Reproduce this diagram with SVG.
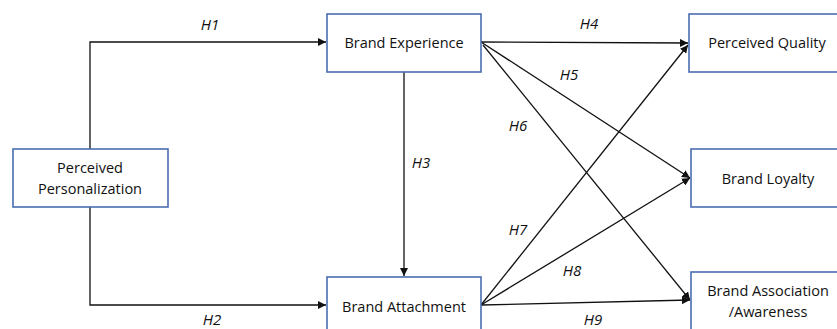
<svg xmlns="http://www.w3.org/2000/svg" width="837" height="329" viewBox="0 0 837 329">
<style>
.box{fill:#fff;stroke:#4a6db0;stroke-width:1.6}
.t{font-family:"Open Sans","Liberation Sans",sans-serif;font-size:14.5px;fill:#111;text-anchor:middle}
.h{font-family:"Open Sans","Liberation Sans",sans-serif;font-size:15px;font-style:italic;fill:#111;text-anchor:middle}
.c{fill:none;stroke:#111;stroke-width:1.3}
</style>
<defs>
<marker id="ar" viewBox="0 0 10 10" refX="10" refY="5" markerWidth="8" markerHeight="8" markerUnits="userSpaceOnUse" orient="auto">
<path d="M0,0 L10,5 L0,10 z" fill="#111"/>
</marker>
</defs>
<rect width="837" height="329" fill="#fff"/>
<g id="connectors">
<path class="c" d="M90,149 V42 H326" marker-end="url(#ar)"/>
<path class="c" d="M90,207 V305 H326" marker-end="url(#ar)"/>
<path class="c" d="M404,72 V276" marker-end="url(#ar)"/>
<path class="c" d="M481,42 L688,43" marker-end="url(#ar)"/>
<path class="c" d="M481,42 L690,178" marker-end="url(#ar)"/>
<path class="c" d="M483,45 L690,300" marker-end="url(#ar)"/>
<path class="c" d="M481,305 L688,45" marker-end="url(#ar)"/>
<path class="c" d="M481,305 L690,178" marker-end="url(#ar)"/>
<path class="c" d="M481,305 L690,300" marker-end="url(#ar)"/>
<text class="h" x="210" y="30">H1</text>
<text class="h" x="212" y="325">H2</text>
<text class="h" x="421" y="168">H3</text>
<text class="h" x="589" y="29">H4</text>
<text class="h" x="569" y="80">H5</text>
<text class="h" x="518" y="131">H6</text>
<text class="h" x="518" y="235">H7</text>
<text class="h" x="572" y="276">H8</text>
<text class="h" x="593" y="325">H9</text>
</g>
<g id="perceived-personalization">
<rect class="box" x="13" y="149" width="155" height="58"/>
<text class="t" x="90" y="173">Perceived</text>
<text class="t" x="90" y="194">Personalization</text>
</g>
<g id="brand-experience">
<rect class="box" x="327" y="14" width="154" height="58"/>
<text class="t" x="404" y="48">Brand Experience</text>
</g>
<g id="brand-attachment">
<rect class="box" x="327" y="277" width="154" height="60"/>
<text class="t" x="404" y="312">Brand Attachment</text>
</g>
<g id="perceived-quality">
<rect class="box" x="689" y="14" width="160" height="58"/>
<text class="t" x="767" y="48">Perceived Quality</text>
</g>
<g id="brand-loyalty">
<rect class="box" x="691" y="149" width="160" height="58"/>
<text class="t" x="768" y="184">Brand Loyalty</text>
</g>
<g id="brand-association">
<rect class="box" x="691" y="272" width="160" height="65"/>
<text class="t" x="768" y="296">Brand Association</text>
<text class="t" x="768" y="317">/Awareness</text>
</g>
</svg>
